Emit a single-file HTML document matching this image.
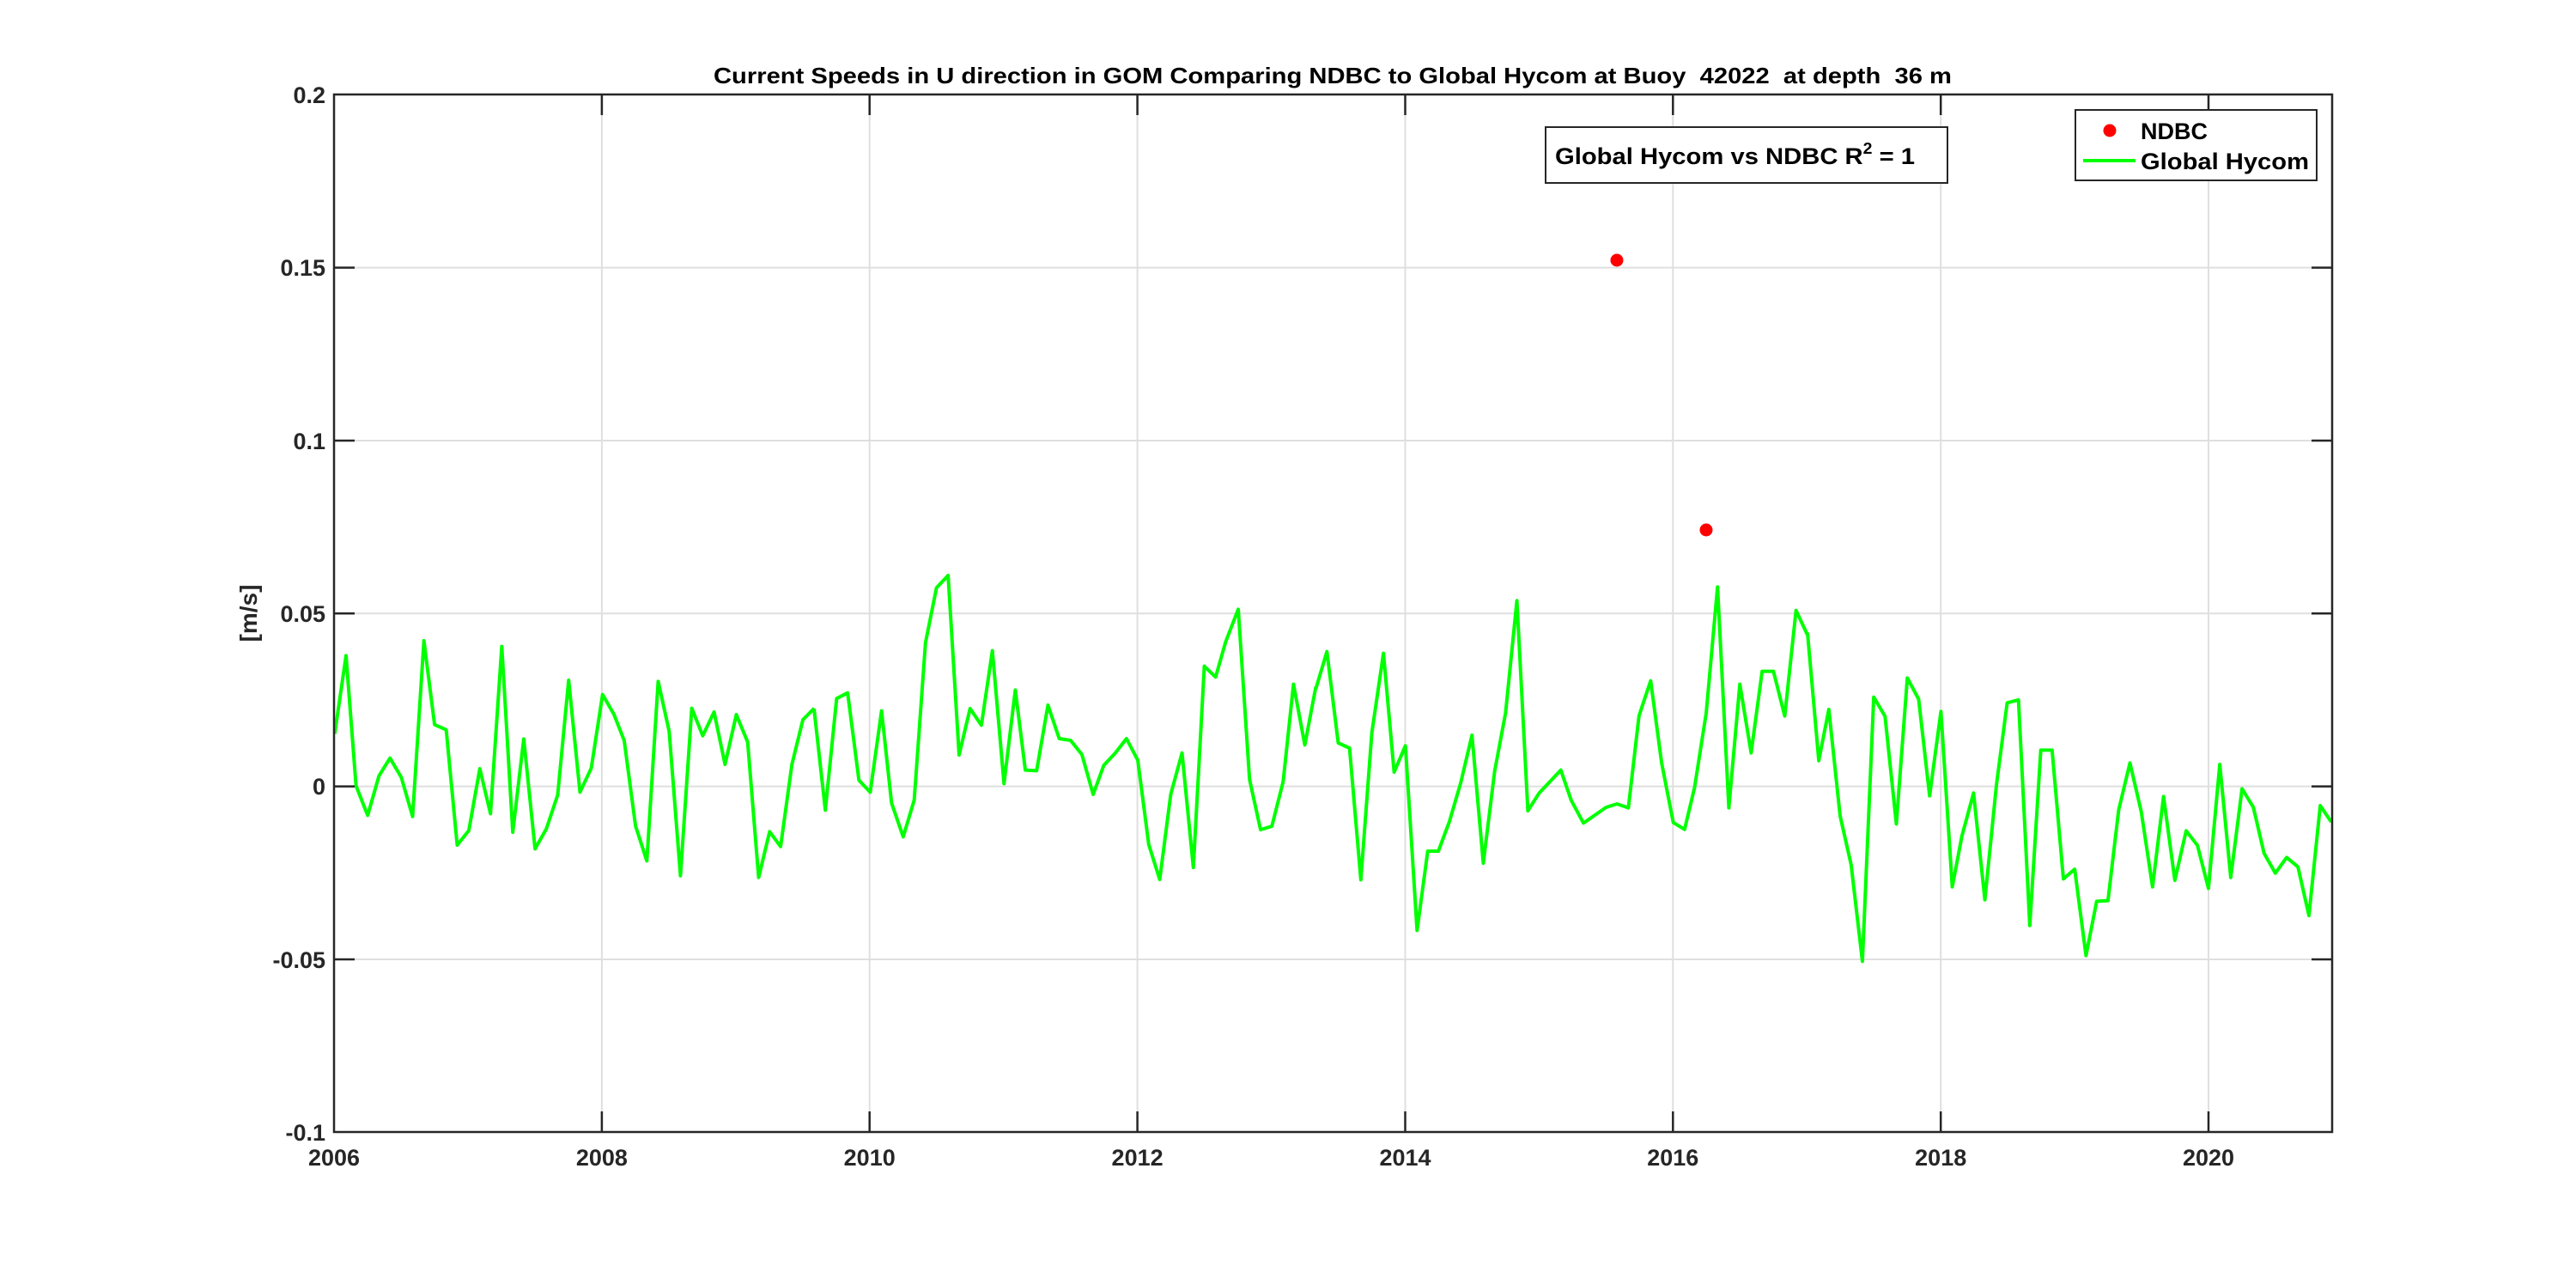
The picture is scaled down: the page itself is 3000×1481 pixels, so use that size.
<!DOCTYPE html>
<html><head><meta charset="utf-8"><style>html,body{margin:0;padding:0;background:#fff}svg{display:block}</style></head>
<body>
<svg width="3000" height="1481" viewBox="0 0 3000 1481" xmlns="http://www.w3.org/2000/svg" font-family="Liberation Sans, Arial, sans-serif" font-weight="bold">
<defs><clipPath id="c"><rect x="389" y="110" width="2327" height="1208"/></clipPath></defs>
<rect width="3000" height="1481" fill="#fff"/>
<g stroke="#dfdfdf" stroke-width="2">
<line x1="389" y1="311.6" x2="2716" y2="311.6"/><line x1="389" y1="513" x2="2716" y2="513"/><line x1="389" y1="714.3" x2="2716" y2="714.3"/><line x1="389" y1="915.6" x2="2716" y2="915.6"/><line x1="389" y1="1117" x2="2716" y2="1117"/>
<line x1="700.9" y1="110" x2="700.9" y2="1318"/><line x1="1012.7" y1="110" x2="1012.7" y2="1318"/><line x1="1324.6" y1="110" x2="1324.6" y2="1318"/><line x1="1636.5" y1="110" x2="1636.5" y2="1318"/><line x1="1948.3" y1="110" x2="1948.3" y2="1318"/><line x1="2260.2" y1="110" x2="2260.2" y2="1318"/><line x1="2572" y1="110" x2="2572" y2="1318"/>
</g>
<g clip-path="url(#c)" fill="none" stroke="#00ff00" stroke-width="4" stroke-linejoin="round">
<polyline vector-effect="non-scaling-stroke" transform="translate(365,660) scale(0.37628,0.33333)" points="66,583 101,310 132,765 168,868 203,730 237,668 272,735 307,872 342,258 375,551 411,569 445,972 481,921 515,705 548,862 583,278 617,927 651,601 686,985 721,915 756,797 790,396 825,787 860,703 895,446 930,515 962,607 997,905 1032,1027 1067,400 1101,574 1136,1079 1171,494 1205,590 1240,507 1274,690 1309,516 1344,612 1378,1085 1412,925 1446,977 1481,690 1515,534 1550,494"/>
<polyline vector-effect="non-scaling-stroke" transform="translate(945,660) scale(0.37628,0.33333)" points="8,495 43,850 78,460 112,440 147,745 182,787 217,503 248,825 284,943 318,815 353,265 387,73 423,30 457,657 491,495 526,553 560,293 596,757 631,430 662,710 697,712 732,483 767,600 802,606 837,655 872,795 905,693 940,651 975,600 1010,675 1044,970 1078,1092 1112,795 1147,650 1182,1050 1216,347 1251,385 1282,262 1321,148 1356,743 1390,918 1425,906 1460,750 1492,410 1527,622 1561,420"/>
<polyline vector-effect="non-scaling-stroke" transform="translate(1525,660) scale(0.37628,0.33333)" points="20,425 54,296 89,615 124,633 159,1093 193,580 229,302 262,717 297,625 333,1270 366,993 399,993 433,890 468,755 503,588 538,1035 573,715 607,510 642,118 676,852 711,790 778,710 810,815 848,895 918,840 952,828 987,842 1020,520 1056,398 1090,685 1126,893 1161,917 1192,770 1228,510 1263,70 1298,842 1332,410 1367,650 1401,365 1436,365 1471,521 1506,152 1541,237"/>
<polyline vector-effect="non-scaling-stroke" transform="translate(2105,660) scale(0.37628,0.33333)" points="0,230 35,677 66,498 101,870 135,1040 170,1378 205,455 240,522 275,898 309,388 344,462 378,800 413,505 448,1118 478,940 514,790 549,1163 585,760 618,475 653,465 688,1253 722,640 757,640 792,1090 827,1056 862,1358 895,1168 930,1166 963,850 998,685 1033,855 1068,1118 1102,802 1137,1095 1172,922 1207,973 1241,1123 1276,690 1310,1085 1345,775 1380,840 1413,1000 1448,1070 1483,1015 1518,1048 1552,1218 1587,834 1621,891"/>
</g>
<circle cx="1883" cy="303" r="7.5" fill="#ff0000"/>
<circle cx="1987" cy="617" r="7.5" fill="#ff0000"/>
<g stroke="#262626" stroke-width="2.5" fill="none">
<rect x="389" y="110" width="2327" height="1208"/>
<path d="M389 311.6h24M389 513h24M389 714.3h24M389 915.6h24M389 1117h24M2716 311.6h-24M2716 513h-24M2716 714.3h-24M2716 915.6h-24M2716 1117h-24"/>
<path d="M700.9 1318v-24M1012.7 1318v-24M1324.6 1318v-24M1636.5 1318v-24M1948.3 1318v-24M2260.2 1318v-24M2572 1318v-24M700.9 110v24M1012.7 110v24M1324.6 110v24M1636.5 110v24M1948.3 110v24M2260.2 110v24M2572 110v24"/>
</g>
<g fill="#262626" font-size="27" text-anchor="end">
<text x="379" y="120">0.2</text><text x="379" y="321">0.15</text><text x="379" y="523">0.1</text><text x="379" y="724">0.05</text><text x="379" y="925">0</text><text x="379" y="1127">-0.05</text><text x="379" y="1328">-0.1</text>
</g>
<g fill="#262626" font-size="27" text-anchor="middle">
<text x="389" y="1357">2006</text><text x="700.9" y="1357">2008</text><text x="1012.7" y="1357">2010</text><text x="1324.6" y="1357">2012</text><text x="1636.5" y="1357">2014</text><text x="1948.3" y="1357">2016</text><text x="2260.2" y="1357">2018</text><text x="2572" y="1357">2020</text>
</g>
<text transform="translate(299,714) rotate(-90)" text-anchor="middle" font-size="28" fill="#262626">[m/s]</text>
<text x="831" y="97" font-size="26" fill="#000" textLength="1442" lengthAdjust="spacingAndGlyphs" xml:space="preserve">Current Speeds in U direction in GOM Comparing NDBC to Global Hycom at Buoy  42022  at depth  36 m</text>
<rect x="1800" y="148" width="468" height="65" fill="#fff" stroke="#262626" stroke-width="2"/>
<text x="1811" y="191" font-size="27" fill="#000" textLength="419" lengthAdjust="spacingAndGlyphs">Global Hycom vs NDBC R<tspan font-size="18" dy="-12">2</tspan><tspan dy="12"> = 1</tspan></text>
<rect x="2417" y="128" width="281" height="82" fill="#fff" stroke="#262626" stroke-width="2"/>
<circle cx="2457" cy="152" r="7.5" fill="#ff0000"/>
<line x1="2426" y1="187" x2="2487" y2="187" stroke="#00ff00" stroke-width="4"/>
<text x="2493" y="162" font-size="27" fill="#000">NDBC</text>
<text x="2493" y="197" font-size="27" fill="#000" textLength="196" lengthAdjust="spacingAndGlyphs">Global Hycom</text>
</svg>
</body></html>
